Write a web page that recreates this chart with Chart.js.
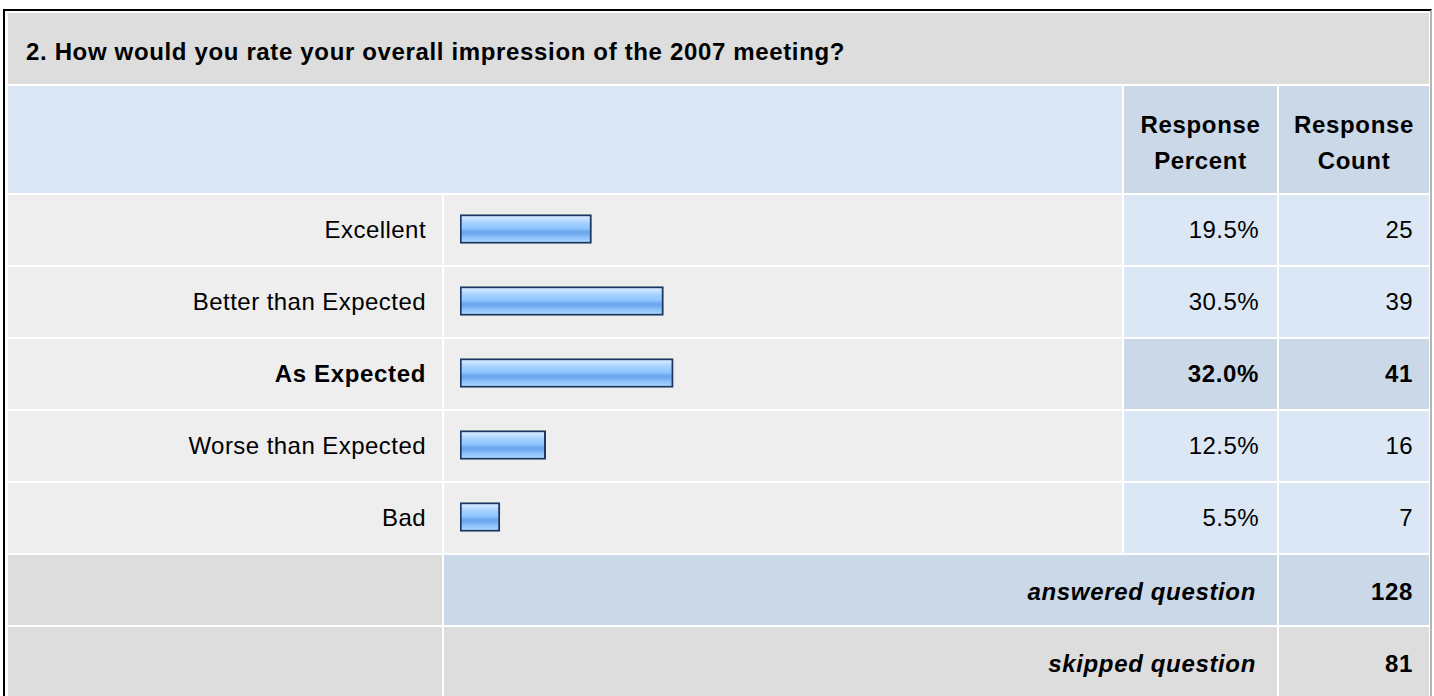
<!DOCTYPE html>
<html>
<head>
<meta charset="utf-8">
<script src="https://cdn.jsdelivr.net/npm/chart.js@4.4.1/dist/chart.umd.min.js"></script>
<style>
  body { margin: 0; background: #fff; }
  #page { position: relative; width: 1434px; height: 696px; overflow: hidden;
          font-family: Arial, "Liberation Sans", sans-serif; font-size: 24px; color: #000;
          letter-spacing: 0.45px; }
  #frame { position: absolute; left: 3px; top: 9px; right: 2px; bottom: -20px; box-sizing: border-box;
           border-left: 2px solid #000; border-top: 2px solid #000; border-right: 2px solid #b4b4b4; }
  .cell { position: absolute; box-sizing: border-box; display: flex; align-items: center; }
  .right { justify-content: flex-end; }
  .center { justify-content: center; text-align: center; }
  .b { font-weight: bold; letter-spacing: 0.65px; }
  .bi { font-weight: bold; font-style: italic; letter-spacing: 0.65px; }
  #bars { position: absolute; left: 444px; top: 193px; }
</style>
</head>
<body>
<div id="page">
  <div id="frame"></div>
  <canvas id="bars" width="678" height="360"></canvas>
</div>
<script>
// data
const question = '2. How would you rate your overall impression of the 2007 meeting?';
const categories = ['Excellent', 'Better than Expected', 'As Expected', 'Worse than Expected', 'Bad'];
const percents = [19.5, 30.5, 32.0, 12.5, 5.5];
const counts = [25, 39, 41, 16, 7];
const answeredCount = 128;
const skippedCount = 81;

// colours
const GRAY = '#dddddd', ROWBG = '#eeeeee', BLUE = '#dce7f5', BLUE2 = '#cbd8e7';

// table cells
const page = document.getElementById('page');
const cols = [[8, 442], [444, 1122], [1124, 1277], [1279, 1429]];
function cell(c1, c2, y1, y2, bg, html, cls, pad) {
  const d = document.createElement('div');
  d.className = 'cell ' + (cls || '');
  d.style.left = cols[c1][0] + 'px';
  d.style.width = (cols[c2][1] - cols[c1][0]) + 'px';
  d.style.top = y1 + 'px';
  d.style.height = (y2 - y1) + 'px';
  d.style.background = bg;
  d.style.padding = pad || '0';
  d.innerHTML = html;
  page.insertBefore(d, document.getElementById('bars'));
}

cell(0, 3, 13, 84, GRAY, question, 'b', '6px 0 0 18px');
cell(0, 1, 86, 193, BLUE, '');
cell(2, 2, 86, 193, BLUE2, 'Response<br>Percent', 'b center', '7px 0 0 0');
cell(3, 3, 86, 193, BLUE2, 'Response<br>Count', 'b center', '7px 0 0 0');
document.querySelectorAll('.center').forEach(e => e.style.lineHeight = '36px');

const maxIdx = percents.indexOf(Math.max(...percents));
categories.forEach((name, i) => {
  const y1 = 195 + 72 * i, y2 = y1 + 70;
  const hi = i === maxIdx;
  cell(0, 0, y1, y2, ROWBG, name, 'right' + (hi ? ' b' : ''), '0 16px 0 0');
  cell(1, 1, y1, y2, ROWBG, '');
  cell(2, 2, y1, y2, hi ? BLUE2 : BLUE, percents[i].toFixed(1) + '%', 'right' + (hi ? ' b' : ''), '0 18px 0 0');
  cell(3, 3, y1, y2, hi ? BLUE2 : BLUE, String(counts[i]), 'right' + (hi ? ' b' : ''), '0 16px 0 0');
});

cell(0, 0, 555, 625, GRAY, '');
cell(1, 2, 555, 625, BLUE2, '<span class="bi">answered question</span>', 'right', '4px 21px 0 0');
cell(3, 3, 555, 625, BLUE2, String(answeredCount), 'right b', '4px 16px 0 0');
cell(0, 0, 627, 697, GRAY, '');
cell(1, 2, 627, 697, GRAY, '<span class="bi">skipped question</span>', 'right', '4px 21px 0 0');
cell(3, 3, 627, 697, GRAY, String(skippedCount), 'right b', '4px 16px 0 0');

// glossy bar fill
const BAR_H = 29;
function barFill(ctx) {
  const chart = ctx.chart;
  const ys = chart.scales && chart.scales.y;
  if (!ys || ctx.dataIndex === undefined) return '#92c6ff';
  const c = ys.getPixelForValue(ctx.dataIndex);
  if (!isFinite(c)) return '#92c6ff';
  const g = chart.ctx.createLinearGradient(0, c - BAR_H / 2, 0, c + BAR_H / 2);
  g.addColorStop(0.00, '#d3e8ff');
  g.addColorStop(0.12, '#cfe5ff');
  g.addColorStop(0.22, '#b3d8ff');
  g.addColorStop(0.35, '#9ccdff');
  g.addColorStop(0.48, '#90c5ff');
  g.addColorStop(0.56, '#74acef');
  g.addColorStop(0.66, '#6fa8ec');
  g.addColorStop(0.76, '#85bcf8');
  g.addColorStop(0.88, '#9ccdff');
  g.addColorStop(1.00, '#b5daff');
  return g;
}

new Chart(document.getElementById('bars'), {
  type: 'bar',
  data: {
    labels: categories,
    datasets: [{
      data: percents,
      base: -0.6,
      backgroundColor: barFill,
      borderColor: '#1e3961',
      borderWidth: 2,
      borderSkipped: false,
      barThickness: BAR_H
    }]
  },
  options: {
    indexAxis: 'y',
    responsive: false,
    animation: false,
    layout: { padding: { left: 16, right: 4, top: 0, bottom: 0 } },
    scales: {
      x: { display: false, min: -0.6, max: 100 },
      y: { display: false }
    },
    plugins: { legend: { display: false }, tooltip: { enabled: false } }
  }
});
</script>
</body>
</html>
